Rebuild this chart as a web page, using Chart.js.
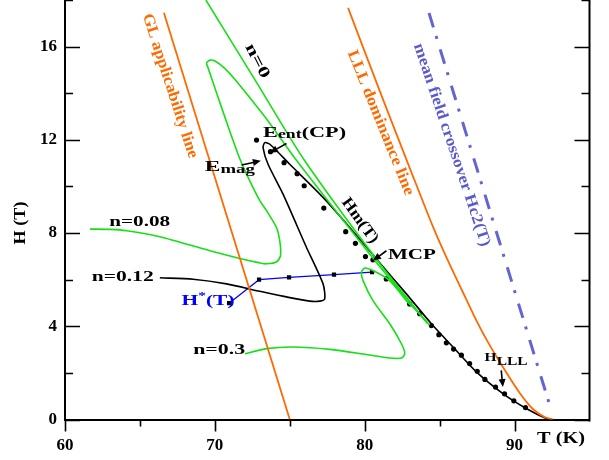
<!DOCTYPE html>
<html>
<head>
<meta charset="utf-8">
<script src="https://cdn.jsdelivr.net/npm/chart.js@4.4.0/dist/chart.umd.min.js"></script>
<style>
  html, body { margin: 0; padding: 0; background: #fff; }
  #wrap { width: 609px; height: 460px; }
</style>
</head>
<body>
<div id="wrap"><canvas id="phaseChart" width="609" height="460"></canvas></div>
<script>
// Temperatura (K) y campo (T)

// GL applicability line
const glT = [66.6, 75.0];
const glH = [17.45, 0];

// LLL dominance line
const lllT = [78.89, 81.0, 83.0, 84.6, 85.6, 86.45, 87.3, 88.11, 89.22, 90.33, 91.22, 92.0, 92.55];
const lllH = [17.66, 14.1, 10.8, 8.2, 6.75, 5.6, 4.45, 3.45, 2.25, 1.15, 0.45, 0.1, 0];

// mean field crossover Hc2(T)
const hc2T = [84.29, 92.45];
const hc2H = [17.44, 0.4];

// n = 0
const n0T = [69.4, 72.73, 76.0, 81.0, 84.2];
const n0H = [18, 14.52, 11.10, 6.69, 4.12];

// n = 0.08
const n008T = [61.67, 63.0, 64.13, 66.33, 69.67, 71.67, 73.0, 73.45, 74.13, 74.38, 74.33, 74.11, 73.45, 73.0, 72.33,
  71.67, 70.87, 70.07, 69.53, 69.45, 69.67, 70.0, 70.6, 71.4, 72.4, 73.5, 75.47, 78.33, 81.0, 84.2];
const n008H = [8.17, 8.16, 8.10, 7.84, 7.24, 6.91, 6.72, 6.68, 6.77, 7.03, 7.67, 8.24, 8.96, 9.39, 10.24,
  11.18, 12.6, 14.1, 15.12, 15.3, 15.42, 15.38, 15.1, 14.55, 13.75, 12.85, 11.10, 8.74, 6.56, 4.12];

// n = 0.12 (continúa por Hm(T) hasta H = 0)
const n012T = [66.33, 68.55, 70.78, 73.0, 75.0, 76.33, 77.0, 77.33, 77.22, 76.11, 74.55, 73.55, 73.22, 73.33, 73.67,
  75.0, 77.22, 79.0, 80.78, 82.78, 84.45, 85.89, 87.45, 89.22, 90.78, 92.11, 92.47];
const n012H = [6.08, 6.02, 5.82, 5.50, 5.23, 5.08, 5.08, 5.18, 5.82, 7.39, 9.67, 10.95, 11.66, 11.88, 11.81,
  10.95, 9.53, 8.24, 6.89, 5.39, 4.11, 3.11, 2.04, 1.11, 0.47, 0.04, 0];

// n = 0.3
const n03T = [72.0, 73.45, 75.22, 77.67, 80.11, 81.67, 82.47, 82.67, 82.45, 81.67, 80.55, 79.89, 79.78, 80.0, 80.55,
  81.67, 82.78, 83.67, 84.33];
const n03H = [2.82, 3.04, 3.11, 3.01, 2.79, 2.64, 2.64, 2.84, 3.25, 4.11, 5.10, 5.96, 6.32, 6.50, 6.39,
  5.96, 5.10, 4.54, 4.04];

// Hm(T) puntos experimentales
const hmT = [72.78, 73.71, 74.62, 75.49, 75.96, 77.27, 78.73, 79.38, 80.05, 80.55, 81.44, 83.0, 83.67, 84.45,
  84.95, 85.45, 85.93, 86.45, 87.0, 87.51, 88.02, 88.73, 89.33, 89.95, 90.73];
const hmH = [11.99, 11.49, 11.02, 10.55, 10.03, 9.07, 8.06, 7.56, 6.99, 6.85, 6.03, 4.96, 4.54, 4.03,
  3.64, 3.29, 3.02, 2.76, 2.40, 2.07, 1.72, 1.39, 1.10, 0.80, 0.51];

// H*(T)
const hStarT = [70.95, 72.95, 74.95, 77.95, 80.49];
const hStarH = [4.99, 6.00, 6.10, 6.22, 6.32];

// ejes
const xMin = 60, xMax = 95, xStep = 5;
const yMin = 0, yMax = 18, yStep = 2;

const FONT = '"Liberation Serif", "Times New Roman", serif';
const ORANGE = '#ff6a00';
const GREEN = '#14e014';
const PURPLE = '#5a5acd';

function toPoints(T, H) {
  return T.map((t, i) => ({ x: t, y: H[i] }));
}

function curve(label, T, H, color, width, extra) {
  return Object.assign({
    label: label,
    data: toPoints(T, H),
    showLine: true,
    borderColor: color,
    borderWidth: width,
    pointRadius: 0,
    tension: 0.25,
    fill: false
  }, extra || {});
}

// texto ajustado a un ancho dado (la figura original usa letras anchas)
function drawText(ctx, parts, x, y, opt) {
  ctx.save();
  ctx.fillStyle = opt.color || '#000';
  let natural = 0;
  parts.forEach(p => {
    ctx.font = 'bold ' + p.size + 'px ' + FONT;
    p.w = ctx.measureText(p.text).width;
    natural += p.w;
  });
  const sx = opt.width ? opt.width / natural : 1;
  ctx.translate(x, y);
  ctx.rotate((opt.angle || 0) * Math.PI / 180);
  ctx.scale(sx, 1);
  ctx.textBaseline = opt.baseline || 'alphabetic';
  let cx = opt.align === 'center' ? -natural / 2 : 0;
  parts.forEach(p => {
    ctx.font = 'bold ' + p.size + 'px ' + FONT;
    ctx.fillText(p.text, cx, p.dy || 0);
    cx += p.w;
  });
  ctx.restore();
}

function drawArrow(ctx, x1, y1, x2, y2) {
  const ang = Math.atan2(y2 - y1, x2 - x1);
  const len = 8, half = 3.5;
  ctx.save();
  ctx.strokeStyle = '#000';
  ctx.fillStyle = '#000';
  ctx.lineWidth = 1.6;
  ctx.beginPath();
  ctx.moveTo(x1, y1);
  ctx.lineTo(x2 - Math.cos(ang) * len * 0.8, y2 - Math.sin(ang) * len * 0.8);
  ctx.stroke();
  ctx.beginPath();
  ctx.moveTo(x2, y2);
  ctx.lineTo(x2 - Math.cos(ang) * len - Math.sin(ang) * half, y2 - Math.sin(ang) * len + Math.cos(ang) * half);
  ctx.lineTo(x2 - Math.cos(ang) * len + Math.sin(ang) * half, y2 - Math.sin(ang) * len - Math.cos(ang) * half);
  ctx.closePath();
  ctx.fill();
  ctx.restore();
}

// marcas de los ejes (hacia dentro en H, hacia fuera en T) y rótulos
const decorPlugin = {
  id: 'decor',
  afterDraw(chart) {
    const ctx = chart.ctx;
    const xs = chart.scales.x, ys = chart.scales.y, a = chart.chartArea;
    const P = (t, h) => [xs.getPixelForValue(t), ys.getPixelForValue(h)];

    ctx.save();
    ctx.strokeStyle = '#000';
    ctx.lineWidth = 1.6;
    ctx.beginPath();
    for (let v = xMin; v < xMax; v += xStep) {
      const px = Math.round(xs.getPixelForValue(v)) + 0.5;
      const len = v % 10 === 0 ? 12 : 7;
      ctx.moveTo(px, a.bottom);
      ctx.lineTo(px, a.bottom + len);
    }
    for (let v = yMin; v <= yMax; v += yStep) {
      const py = Math.round(ys.getPixelForValue(v)) + 0.5;
      const len = v % 4 === 0 ? 15 : 8;
      ctx.moveTo(a.left, py);
      ctx.lineTo(a.left + len, py);
      ctx.moveTo(a.right, py);
      ctx.lineTo(a.right - len, py);
    }
    ctx.stroke();
    ctx.lineWidth = 2;
    ctx.beginPath();
    ctx.moveTo(a.right, a.top);
    ctx.lineTo(a.right, a.bottom + 2);
    ctx.stroke();
    ctx.restore();

    // títulos de ejes
    drawText(ctx, [{ text: 'H (T)', size: 17 }], 21, 223, { angle: -90, width: 43, align: 'center', baseline: 'middle' });
    drawText(ctx, [{ text: 'T (K)', size: 17 }], 537, 443, { width: 48 });

    // rótulos horizontales
    let p;
    p = P(62.95, 8.31); drawText(ctx, [{ text: 'n=0.08', size: 15 }], p[0], p[1], { width: 61 });
    p = P(61.78, 5.96); drawText(ctx, [{ text: 'n=0.12', size: 15 }], p[0], p[1], { width: 62 });
    p = P(68.55, 2.82); drawText(ctx, [{ text: 'n=0.3', size: 15 }], p[0], p[1], { width: 52 });
    p = P(81.55, 6.89); drawText(ctx, [{ text: 'MCP', size: 15 }], p[0], p[1], { width: 48 });
    p = P(73.22, 12.14);
    drawText(ctx, [{ text: 'E', size: 15 }, { text: 'ent', size: 12, dy: 1.5 }, { text: '(CP)', size: 15 }], p[0], p[1], { width: 83 });
    p = P(69.33, 10.67);
    drawText(ctx, [{ text: 'E', size: 15 }, { text: 'mag', size: 12, dy: 2 }], p[0], p[1], { width: 50 });
    p = P(67.78, 4.92);
    drawText(ctx, [{ text: 'H', size: 14 }, { text: '*', size: 10, dy: -6 }, { text: '(T)', size: 14 }], p[0], p[1], { width: 53, color: '#0000ff' });
    p = P(88.0, 2.49);
    drawText(ctx, [{ text: 'H', size: 13 }, { text: 'LLL', size: 13, dy: 3.5 }], p[0], p[1], { width: 43 });

    // rótulos inclinados
    p = P(72.82, 15.38);
    drawText(ctx, [{ text: 'n=0', size: 16 }], p[0], p[1], { angle: 63, width: 37, align: 'center', baseline: 'middle' });
    p = P(67.0, 14.31);
    drawText(ctx, [{ text: 'GL applicability line', size: 16 }], p[0], p[1], { angle: 72, width: 151, align: 'center', baseline: 'middle', color: ORANGE });
    p = P(81.05, 12.73);
    drawText(ctx, [{ text: 'LLL dominance line', size: 16 }], p[0], p[1], { angle: 67.9, width: 155, align: 'center', baseline: 'middle', color: ORANGE });
    p = P(85.8, 11.78);
    drawText(ctx, [{ text: 'mean field crossover Hc2(T)', size: 16 }], p[0], p[1], { angle: 71.4, width: 213, align: 'center', baseline: 'middle', color: PURPLE });
    p = P(79.67, 8.53);
    drawText(ctx, [{ text: 'Hm(T)', size: 16 }], p[0], p[1], { angle: 54, width: 52, align: 'center', baseline: 'middle' });

    // flechas
    const arrows = [
      [74.78, 11.84, 73.67, 11.45],
      [71.78, 10.92, 73.07, 11.10],
      [81.45, 7.24, 80.55, 6.82],
      [89.11, 2.11, 89.22, 1.39]
    ];
    arrows.forEach(r => {
      const s = P(r[0], r[1]), e = P(r[2], r[3]);
      drawArrow(ctx, s[0], s[1], e[0], e[1]);
    });
  }
};

function initializeChart() {
  const canvas = document.getElementById('phaseChart');
  if (!canvas) {
    console.error('No se encontró el canvas');
    return null;
  }
  const ctx = canvas.getContext('2d');
  const tickFont = { family: FONT, size: 17, weight: 'bold' };

  return new Chart(ctx, {
    type: 'scatter',
    data: {
      datasets: [
        curve('GL', glT, glH, ORANGE, 1.8, { tension: 0 }),
        curve('LLL', lllT, lllH, ORANGE, 1.8, { tension: 0.3 }),
        curve('Hc2', hc2T, hc2H, '#6464d2', 3, { tension: 0, borderDash: [15, 9, 3, 11] }),
        curve('n=0', n0T, n0H, GREEN, 1.6),
        curve('n=0.08', n008T, n008H, GREEN, 1.6),
        curve('n=0.3', n03T, n03H, GREEN, 1.6),
        curve('n=0.12', n012T, n012H, '#000', 1.6),
        {
          label: 'Hm',
          data: toPoints(hmT, hmH),
          showLine: false,
          pointRadius: 2.6,
          pointBackgroundColor: '#000',
          pointBorderColor: '#000',
          pointBorderWidth: 0
        },
        curve('H*', hStarT, hStarH, '#0000ff', 1.2, {
          tension: 0,
          pointRadius: 3,
          pointStyle: 'rect',
          pointBackgroundColor: '#000',
          pointBorderColor: '#000',
          pointBorderWidth: 0
        })
      ]
    },
    options: {
      responsive: false,
      devicePixelRatio: 1,
      animation: false,
      events: [],
      layout: { autoPadding: false, padding: { left: 0, right: 19.5, top: 0, bottom: 0 } },
      plugins: {
        legend: { display: false },
        tooltip: { enabled: false }
      },
      scales: {
        x: {
          type: 'linear',
          min: xMin,
          max: xMax,
          afterFit: function(scale) {
            scale.height = 40.5;
            scale.paddingLeft = 0;
            scale.paddingRight = 0;
          },
          grid: { display: false, drawTicks: false },
          border: { display: true, color: '#000', width: 2 },
          ticks: {
            stepSize: xStep,
            autoSkip: false,
            maxRotation: 0,
            padding: 16,
            color: '#000',
            font: tickFont,
            callback: function(value) {
              return value % 10 === 0 && value < xMax ? value : null;
            }
          }
        },
        y: {
          type: 'linear',
          min: yMin,
          max: yMax,
          afterFit: function(scale) {
            scale.width = 65;
            scale.paddingTop = 0;
            scale.paddingBottom = 0;
          },
          grid: { display: false, drawTicks: false },
          border: { display: true, color: '#000', width: 2 },
          ticks: {
            stepSize: yStep,
            autoSkip: false,
            padding: 8,
            color: '#000',
            font: tickFont,
            callback: function(value) {
              return value % 4 === 0 && value < yMax ? value : null;
            }
          }
        }
      }
    },
    plugins: [decorPlugin]
  });
}

initializeChart();
</script>
</body>
</html>
